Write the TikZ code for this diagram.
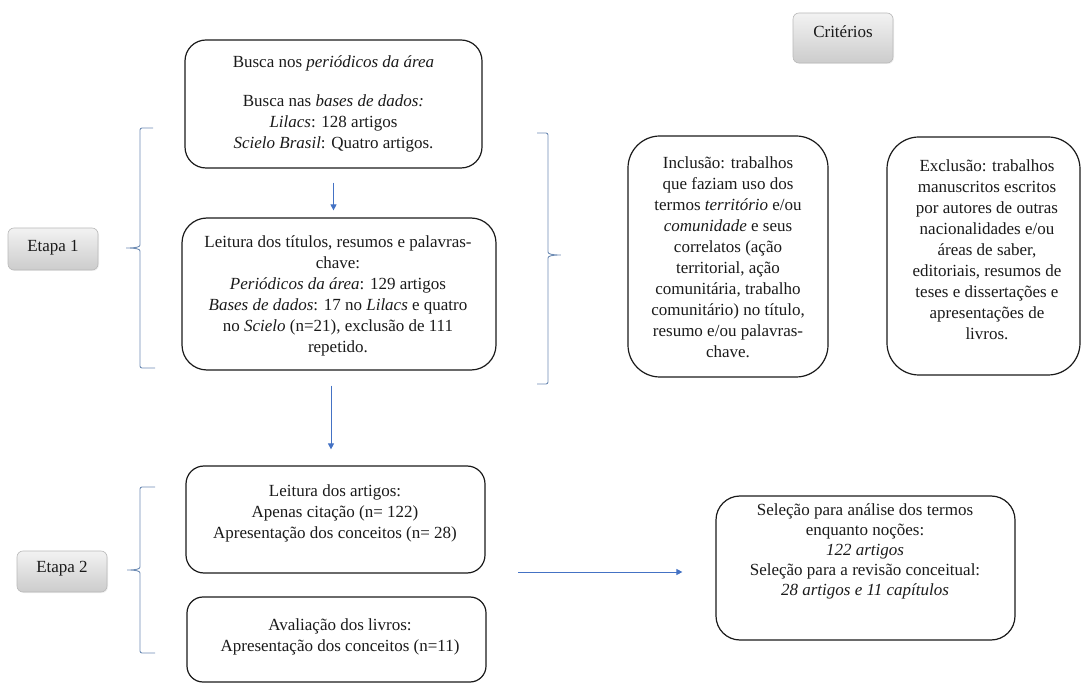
\documentclass[tikz,border=0pt]{standalone}
\usepackage{fontspec}
\setmainfont{Liberation Serif}
\usetikzlibrary{arrows.meta,shadows}
\definecolor{ink}{HTML}{1A1A1A}
\definecolor{flowblue}{HTML}{4472C4}
\definecolor{bracketblue}{HTML}{6E8CB4}

\begin{document}
\begin{tikzpicture}[x=1pt,y=-1pt,
  box/.style={draw=ink, line width=1.2pt, rounded corners=#1, inner sep=0pt},
  box/.default=20pt,
  tag/.style={draw=gray!55, line width=0.6pt, rounded corners=6pt, top color=gray!10, bottom color=gray!40, inner sep=0pt,
    drop shadow={opacity=0.12, shadow xshift=1pt, shadow yshift=-1pt}},
  txt/.style={text=ink, align=center, font=\fontsize{17pt}{21pt}\selectfont, inner sep=0pt},
  arr/.style={draw=flowblue, line width=0.9pt, -{Triangle[width=6pt,length=6pt]}},
  brace/.style={draw=bracketblue, line width=0.9pt, rounded corners=2pt}
]
\useasboundingbox (0,0) rectangle (1082,684);

% stage tags and criteria header
\node[tag, minimum width=90pt, minimum height=42pt] (etapa1) at (53,249) {};
\node[txt] (etapa1T) at (53,248) {Etapa 1};
\node[tag, minimum width=90pt, minimum height=41pt] (etapa2) at (62,571.5) {};
\node[txt] (etapa2T) at (62,569) {Etapa 2};
\node[tag, minimum width=100pt, minimum height=50pt] (criterios) at (843,38) {};
\node[txt] (criteriosT) at (843,32) {Critérios};

% stage 1 boxes
\node[box=21pt, minimum width=297pt, minimum height=128pt] (busca) at (333.5,104) {};
\node[txt] (buscaT) at (333.5,103.5) {Busca nos \textit{periódicos da área}\\[18pt]
  Busca nas \textit{bases de dados:}\\
  \textit{Lilacs}: 128 artigos\\
  \textit{Scielo Brasil}: Quatro artigos.};

\node[box=25pt, minimum width=314pt, minimum height=152pt] (leitura) at (339,294) {};
\node[txt] (leituraT) at (338,295.5) {Leitura dos títulos, resumos e palavras-\\
  chave:\\
  \textit{Periódicos da área}: 129 artigos\\
  \textit{Bases de dados}: 17 no \textit{Lilacs} e quatro\\
  no \textit{Scielo} (n=21), exclusão de 111\\
  repetido.};

% criteria boxes
\node[box=32pt, minimum width=200pt, minimum height=241pt] (inclusao) at (728,256.5) {};
\node[txt] (inclusaoT) at (728,257.5) {Inclusão: trabalhos\\
  que faziam uso dos\\
  termos \textit{território} e/ou\\
  \textit{comunidade} e seus\\
  correlatos (ação\\
  territorial, ação\\
  comunitária, trabalho\\
  comunitário) no título,\\
  resumo e/ou palavras-\\
  chave.};

\node[box=32pt, minimum width=193pt, minimum height=238pt] (exclusao) at (983.5,256) {};
\node[txt] (exclusaoT) at (987,250) {Exclusão: trabalhos\\
  manuscritos escritos\\
  por autores de outras\\
  nacionalidades e/ou\\
  áreas de saber,\\
  editoriais, resumos de\\
  teses e dissertações e\\
  apresentações de\\
  livros.};

% stage 2 boxes
\node[box=18pt, minimum width=299pt, minimum height=107pt] (artigos) at (335.5,519.5) {};
\node[txt] (artigosT) at (335,513.5) {Leitura dos artigos:\\
  Apenas citação (n= 122)\\
  Apresentação dos conceitos (n= 28)};

\node[box=16pt, minimum width=299pt, minimum height=85pt] (livros) at (336.5,639.5) {};
\node[txt] (livrosT) at (340,637) {Avaliação dos livros:\\
  Apresentação dos conceitos (n=11)};

\node[box=24pt, minimum width=299pt, minimum height=144pt] (selecao) at (865.5,568) {};
\node[txt, font=\fontsize{17pt}{20pt}\selectfont] (selecaoT) at (865,551.5) {Seleção para análise dos termos\\
  enquanto noções:\\
  \textit{122 artigos}\\
  Seleção para a revisão conceitual:\\
  \textit{28 artigos e 11 capítulos}};

% braces grouping each stage
\draw[brace] (153,128) -- (140,128) -- (140,243)
  .. controls (140,247) and (136,248) .. (125,248)
  .. controls (136,248) and (140,249) .. (140,253) -- (140,368) -- (155,368);
\draw[brace] (537,133) -- (548,133) -- (548,250)
  .. controls (548,254) and (552,255) .. (562,255)
  .. controls (552,255) and (548,256) .. (548,260) -- (548,384) -- (537,384);
\draw[brace] (155,487) -- (140,487) -- (140,565)
  .. controls (140,569) and (136,570) .. (126,570)
  .. controls (136,570) and (140,571) .. (140,575) -- (140,653) -- (155,653);

% flow arrows
\draw[arr, shorten <=14pt, shorten >=7pt] (busca.south) -- (busca.south |- leitura.north);
\draw[arr, shorten <=15pt, shorten >=16pt] ([xshift=-8pt]leitura.south) -- ([xshift=-8pt]leitura.south |- artigos.north);
\coordinate (hstart) at (518,572);
\draw[arr, shorten >=33pt] (hstart) -- (hstart -| selecao.west);
\end{tikzpicture}
\end{document}
